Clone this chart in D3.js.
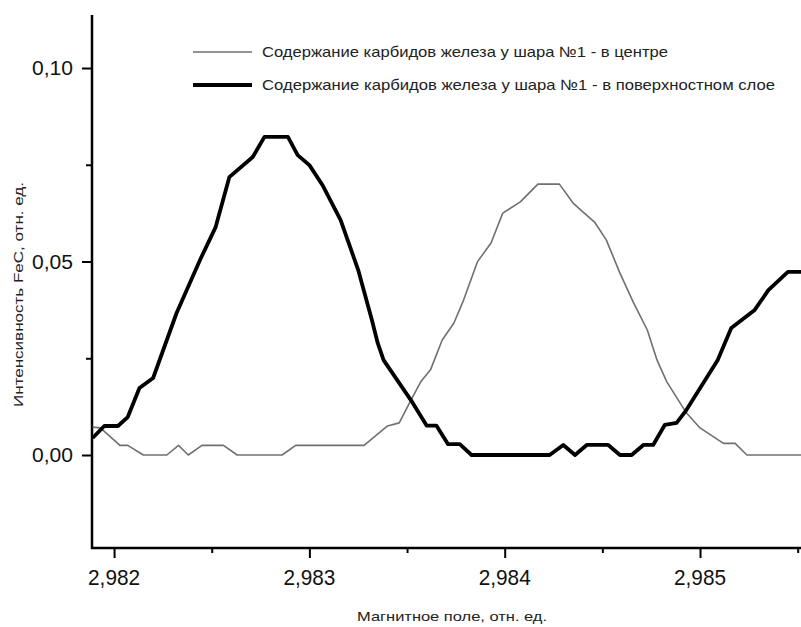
<!DOCTYPE html>
<html>
<head>
<meta charset="utf-8">
<script src="https://cdn.jsdelivr.net/npm/d3@7"></script>
<style>
  body { margin: 0; background: #fff; }
  svg { display: block; font-family: "Liberation Sans", Arial, sans-serif; }
</style>
</head>
<body>
<div id="chart"></div>
<script>
// series: "в центре" (thin line)
var centerX = [2.98189, 2.98193, 2.98203, 2.98207, 2.98215, 2.98227, 2.98233, 2.98238, 2.98245, 2.98256,
  2.98263, 2.98286, 2.98293, 2.98328, 2.98340, 2.98346, 2.98352, 2.98357, 2.98362, 2.98368,
  2.98374, 2.98379, 2.98386, 2.98393, 2.98399, 2.98408, 2.98417, 2.98428, 2.98435, 2.98439,
  2.98446, 2.98452, 2.98459, 2.98466, 2.98473, 2.98478, 2.98483, 2.98493, 2.98500, 2.98512,
  2.98518, 2.98524, 2.98552];
var centerY = [0.0072, 0.0070, 0.0025, 0.0025, 0, 0, 0.0025, 0, 0.0025, 0.0025,
  0, 0, 0.0025, 0.0025, 0.0075, 0.0083, 0.0142, 0.0189, 0.0220, 0.0297,
  0.0341, 0.0401, 0.0499, 0.0548, 0.0625, 0.0654, 0.0700, 0.0700, 0.0651, 0.0633,
  0.0602, 0.0556, 0.0470, 0.0393, 0.0323, 0.0245, 0.0189, 0.0109, 0.0070, 0.0030,
  0.0030, 0, 0];

// series: "в поверхностном слое" (thick line)
var surfaceX = [2.98189, 2.98195, 2.98202, 2.98207, 2.98213, 2.98220, 2.98232, 2.98244, 2.98252, 2.98259,
  2.98271, 2.98277, 2.98289, 2.98294, 2.98300, 2.98307, 2.98316, 2.98325, 2.98332, 2.98335,
  2.98338, 2.98353, 2.98360, 2.98365, 2.98371, 2.98377, 2.98383, 2.98423, 2.98430, 2.98436,
  2.98442, 2.98453, 2.98459, 2.98465, 2.98471, 2.98476, 2.98482, 2.98488, 2.98493, 2.98509,
  2.98516, 2.98528, 2.98535, 2.98545, 2.98552];
var surfaceY = [0.0044, 0.0075, 0.0075, 0.0098, 0.0173, 0.0199, 0.0367, 0.0504, 0.0589, 0.0718,
  0.0770, 0.0822, 0.0822, 0.0775, 0.0749, 0.0695, 0.0607, 0.0478, 0.0349, 0.0289,
  0.0245, 0.0134, 0.0076, 0.0076, 0.0028, 0.0028, 0, 0, 0.0026, 0,
  0.0026, 0.0026, 0, 0, 0.0026, 0.0026, 0.0078, 0.0083, 0.0116, 0.0245,
  0.0328, 0.0375, 0.0426, 0.0473, 0.0473];

var yMajor = [0, 0.05, 0.10];
var yMajorLabels = ["0,00", "0,05", "0,10"];
var yMinor = [0.025, 0.075];
var xMajor = [2.982, 2.983, 2.984, 2.985];
var xMajorLabels = ["2,982", "2,983", "2,984", "2,985"];
var xMinor = [2.9825, 2.9835, 2.9845, 2.9855];

var legendLabels = [
  "Содержание карбидов железа у шара №1 - в центре",
  "Содержание карбидов железа у шара №1 - в поверхностном слое"
];

function drawChart() {
  var svgWidth = 801, svgHeight = 627;
  // plot box (no frame on the top/right sides)
  var margin = { top: 15, bottom: 548, left: 92, right: 801 };

  var svg = d3.select("#chart").append("svg")
    .attr("width", svgWidth)
    .attr("height", svgHeight);

  var x = d3.scaleLinear().domain([2.981887, 2.985517]).range([margin.left, margin.right]);
  var y = d3.scaleLinear().domain([-0.02403, 0.1137]).range([margin.bottom, margin.top]);

  // tick marks
  function ticks(axis, pos) {
    svg.append("g")
      .attr("transform", pos)
      .call(axis.tickFormat(""))
      .call(g => g.select(".domain").remove())
      .selectAll("line").attr("stroke-width", 2);
  }
  ticks(d3.axisBottom(x).tickValues(xMinor).tickSize(5), `translate(0, ${margin.bottom})`);
  ticks(d3.axisBottom(x).tickValues(xMajor).tickSize(10), `translate(0, ${margin.bottom})`);
  ticks(d3.axisLeft(y).tickValues(yMinor).tickSize(6), `translate(${margin.left}, 0)`);
  ticks(d3.axisLeft(y).tickValues(yMajor).tickSize(10), `translate(${margin.left}, 0)`);

  svg.append("line")
    .attr("x1", margin.left).attr("x2", margin.left)
    .attr("y1", margin.top).attr("y2", margin.bottom + 1)
    .attr("stroke", "#000").attr("stroke-width", 2.5);
  svg.append("line")
    .attr("x1", margin.left - 1).attr("x2", margin.right)
    .attr("y1", margin.bottom).attr("y2", margin.bottom)
    .attr("stroke", "#000").attr("stroke-width", 2.5);

  // tick labels
  svg.selectAll(".ylab").data(yMajor).enter().append("text")
    .attr("class", "ylab")
    .attr("x", 32)
    .attr("y", d => y(d) + 7)
    .attr("font-size", 20)
    .attr("textLength", 41)
    .attr("lengthAdjust", "spacingAndGlyphs")
    .attr("fill", "#111")
    .text((d, i) => yMajorLabels[i]);

  svg.selectAll(".xlab").data(xMajor).enter().append("text")
    .attr("class", "xlab")
    .attr("x", d => x(d) - 26)
    .attr("y", 585)
    .attr("font-size", 22)
    .attr("textLength", 52)
    .attr("lengthAdjust", "spacingAndGlyphs")
    .attr("fill", "#111")
    .text((d, i) => xMajorLabels[i]);

  // axis titles
  svg.append("text")
    .attr("transform", "translate(23, 407) rotate(-90)")
    .attr("font-size", 13)
    .attr("textLength", 225)
    .attr("lengthAdjust", "spacingAndGlyphs")
    .attr("fill", "#222")
    .text("Интенсивность FeC, отн. ед.");

  svg.append("text")
    .attr("x", 357)
    .attr("y", 621)
    .attr("font-size", 13)
    .attr("textLength", 190)
    .attr("lengthAdjust", "spacingAndGlyphs")
    .attr("fill", "#222")
    .text("Магнитное поле, отн. ед.");

  // lines
  var line = d3.line()
    .x(d => x(d[0]))
    .y(d => y(d[1]));

  var centerData = centerX.map((v, i) => [v, centerY[i]]);
  var surfaceData = surfaceX.map((v, i) => [v, surfaceY[i]]);

  svg.append("path")
    .datum(centerData)
    .attr("d", line)
    .attr("fill", "none")
    .attr("stroke", "#707070")
    .attr("stroke-width", 1.6)
    .attr("stroke-linejoin", "round");

  svg.append("path")
    .datum(surfaceData)
    .attr("d", line)
    .attr("fill", "none")
    .attr("stroke", "#000")
    .attr("stroke-width", 3.8)
    .attr("stroke-linejoin", "round");

  // legend
  var legendY = [52, 85];
  var legendW = [1.6, 3.8];
  var legendC = ["#707070", "#000"];
  var legendLen = [406, 513];

  legendLabels.forEach(function(lbl, i) {
    svg.append("line")
      .attr("x1", 193).attr("x2", 252)
      .attr("y1", legendY[i]).attr("y2", legendY[i])
      .attr("stroke", legendC[i]).attr("stroke-width", legendW[i]);
    svg.append("text")
      .attr("x", 262)
      .attr("y", legendY[i] + 5)
      .attr("font-size", 15)
      .attr("textLength", legendLen[i])
      .attr("lengthAdjust", "spacingAndGlyphs")
      .attr("fill", "#222")
      .text(lbl);
  });
}

drawChart();
</script>
</body>
</html>
